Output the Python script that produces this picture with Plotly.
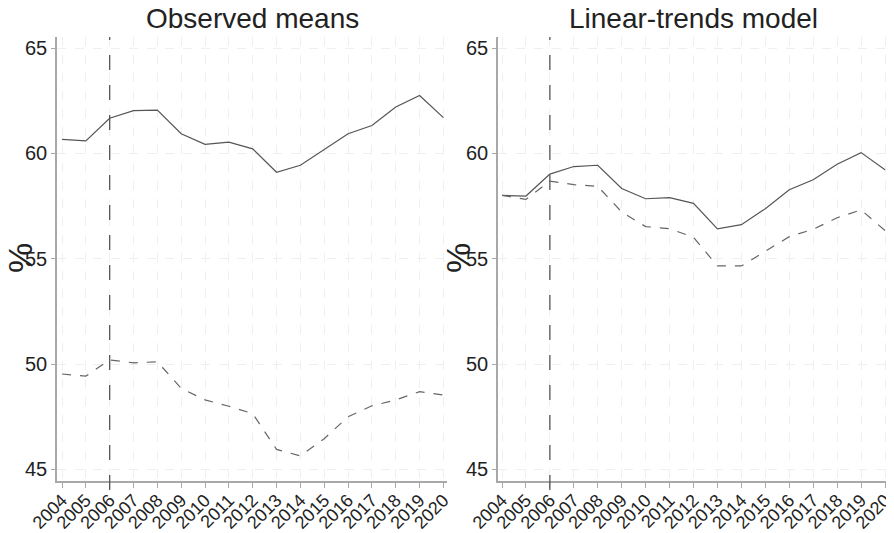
import plotly.graph_objects as go

years = list(range(2004, 2021))
year_labels = [str(y) for y in years]

obs_solid = [60.67, 60.60, 61.67, 62.03, 62.06, 60.94, 60.43, 60.54, 60.22, 59.11,
             59.44, 60.18, 60.94, 61.33, 62.21, 62.75, 61.70]
obs_dashed = [49.53, 49.43, 50.20, 50.06, 50.11, 48.85, 48.30, 48.00, 47.65, 45.95,
              45.64, 46.46, 47.50, 48.02, 48.30, 48.69, 48.53]
lin_solid = [58.01, 57.98, 59.02, 59.38, 59.44, 58.34, 57.85, 57.90, 57.63, 56.42,
             56.62, 57.38, 58.28, 58.75, 59.49, 60.04, 59.23]
lin_dashed = [58.01, 57.82, 58.69, 58.52, 58.44, 57.22, 56.53, 56.43, 56.02, 54.66,
              54.66, 55.37, 56.05, 56.40, 56.95, 57.32, 56.34]

panel_titles = ["Observed means", "Linear-trends model"]
y_ticks = [45, 50, 55, 60, 65]
event_year = 2006

FONT = "Liberation Sans, Arial, sans-serif"
LINE_COL = "#555555"
AXIS_COL = "#a8a8a8"
GRID_COL = "#efefef"

# page body has an 8px margin: figure is offset so it lands on the window
OFF = 8
W, H = 894 - OFF, 533 - OFF


def px(xp):
    return min(max((xp - OFF) / W, 0.0), 1.0)


def py(yp):
    return min(max((H - (yp - OFF)) / H, 0.0), 1.0)


fig = go.Figure()

panels = [
    ("x", "y", obs_solid, obs_dashed),
    ("x2", "y2", lin_solid, lin_dashed),
]
for xa, ya, s, d in panels:
    fig.add_trace(go.Scatter(x=years, y=s, mode="lines", xaxis=xa, yaxis=ya,
                             line=dict(color=LINE_COL, width=1.2), showlegend=False))
    fig.add_trace(go.Scatter(x=years, y=d, mode="lines", xaxis=xa, yaxis=ya,
                             line=dict(color="#666666", width=1.2, dash="dash"), showlegend=False))

ydom = [py(481), py(37)]
xdom1 = [px(57), px(447)]
xdom2 = [px(498), px(888)]


def xaxis(dom, rng, anchor):
    return dict(domain=dom, range=rng, anchor=anchor, tickmode="array",
                tickvals=years, ticktext=year_labels, tickangle=-45,
                tickfont=dict(family=FONT, size=18, color="#222222"),
                ticklabelstandoff=-5, ticklabeloverflow="allow",
                showline=True, linecolor=AXIS_COL, linewidth=1.5,
                ticks="outside", ticklen=5, tickcolor=AXIS_COL,
                showgrid=True, gridcolor=GRID_COL, griddash="dash", gridwidth=1,
                zeroline=False, automargin=False)


def yaxis(rng, anchor):
    return dict(domain=ydom, range=rng, anchor=anchor, tickmode="array",
                tickvals=y_ticks, ticktext=[str(v) for v in y_ticks],
                tickfont=dict(family=FONT, size=20, color="#222222"),
                showline=True, linecolor=AXIS_COL, linewidth=1.5,
                ticks="outside", ticklen=4, tickcolor=AXIS_COL,
                showgrid=True, gridcolor=GRID_COL, griddash="dash", gridwidth=1,
                zeroline=False, automargin=False)


fig.update_layout(
    width=W, height=H,
    margin=dict(l=0, r=0, t=0, b=0),
    paper_bgcolor="white", plot_bgcolor="white",
    xaxis=xaxis(xdom1, [2003.79, 2020.15], "y"),
    yaxis=yaxis([44.45, 65.53], "x"),
    xaxis2=xaxis(xdom2, [2003.833, 2020.125], "y2"),
    yaxis2=yaxis([44.45, 65.53], "x2"),
)

for xr, yr in [("x", "y domain"), ("x2", "y2 domain")]:
    fig.add_shape(type="line", xref=xr, yref=yr, x0=event_year, x1=event_year,
                  y0=-0.02, y1=1.0, line=dict(color=LINE_COL, width=1.3, dash="longdash"))

title_x = [252, 693]
for t, tx in zip(panel_titles, title_x):
    fig.add_annotation(text=t, xref="paper", yref="paper", x=px(tx), y=py(19),
                       xanchor="center", yanchor="middle", showarrow=False,
                       font=dict(family=FONT, size=28, color="#222222"))

for pxx in [20, 458]:
    fig.add_annotation(text="%", xref="paper", yref="paper", x=px(pxx), y=py(258),
                       xanchor="center", yanchor="middle", showarrow=False, textangle=-90,
                       font=dict(family=FONT, size=34, color="#222222"))

fig.write_html("out.html")
